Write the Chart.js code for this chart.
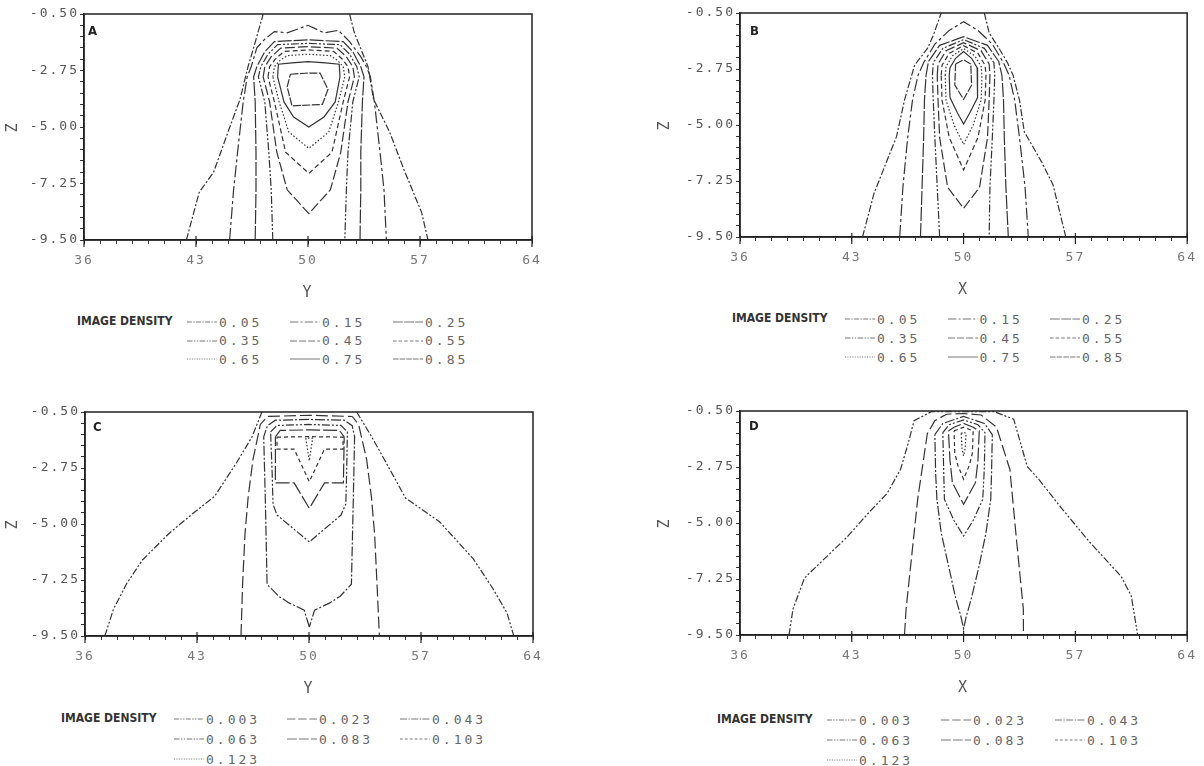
<!DOCTYPE html>
<html>
<head>
<meta charset="utf-8">
<script src="https://cdn.jsdelivr.net/npm/chart.js@4.4.1/dist/chart.umd.min.js"></script>
<style>
  body { margin: 0; background: #fff; width: 1204px; height: 766px; position: relative; overflow: hidden; }
  canvas { position: absolute; }
  .tag { position: absolute; font: bold 13px "DejaVu Sans Condensed", "DejaVu Sans", sans-serif; font-stretch: condensed; color: #222; line-height: 14px; }
  .lgLabel { position: absolute; font: bold 12px "DejaVu Sans Condensed", "DejaVu Sans", sans-serif; font-stretch: condensed; color: #333; line-height: 14px; white-space: nowrap; }
  .lgItem { position: absolute; height: 16px; display: flex; align-items: center; white-space: nowrap; }
  .lgItem span { font: 13px "DejaVu Sans Mono", monospace; letter-spacing: 3px; color: #666; margin-left: 2px; }
</style>
</head>
<body>
<canvas id="cA" width="560" height="310" style="left:0px;top:0px"></canvas>
<canvas id="cB" width="552" height="307" style="left:652px;top:0px"></canvas>
<canvas id="cC" width="560" height="308" style="left:0px;top:398px"></canvas>
<canvas id="cD" width="552" height="307" style="left:652px;top:398px"></canvas>

<script>
// contour levels and axis ticks
const levelsAB = ['0.05', '0.15', '0.25', '0.35', '0.45', '0.55', '0.65', '0.75', '0.85'];
const levelsCD = ['0.003', '0.023', '0.043', '0.063', '0.083', '0.103', '0.123'];
const xTickValues = [36, 43, 50, 57, 64];
const zTickValues = [-0.5, -2.75, -5.0, -7.25, -9.5];

// contour lines, [x, z] points per level (null = line leaves the plot)
const contoursA = [
  [[42.4,-9.5],[43.2,-7.6],[44.1,-6.8],[45.0,-5.2],[45.75,-3.9],[46.25,-2.6],[46.6,-1.85],[47.2,-0.5], null,
   [52.6,-0.5],[52.9,-1.25],[53.75,-2.6],[54.1,-3.9],[55.1,-5.2],[56.0,-6.7],[57.1,-8.4],[57.5,-9.5]],
  [[45.1,-9.5],[45.35,-7.5],[45.6,-6.0],[45.95,-4.0],[46.2,-3.0],[46.45,-2.6],[46.8,-1.85],[47.3,-1.5],[47.9,-1.2],[48.7,-1.25],
   [50.0,-0.95],[51.0,-1.25],[51.9,-1.15],[52.6,-1.6],[53.3,-2.2],[53.65,-2.6],[53.9,-3.0],[54.15,-4.0],[54.5,-6.0],[54.75,-7.5],[54.9,-9.5]],
  [[46.7,-9.5],[46.75,-7.5],[46.75,-6.0],[46.7,-4.0],[46.6,-3.0],[46.8,-2.6],[47.3,-2.0],[47.9,-1.6],[50.0,-1.53],[52.2,-1.6],
   [52.8,-2.0],[53.3,-2.6],[53.5,-3.0],[53.4,-4.0],[53.3,-6.0],[53.3,-7.5],[53.25,-9.5]],
  [[47.8,-9.5],[47.7,-7.5],[47.55,-6.0],[47.3,-4.0],[46.9,-3.0],[47.05,-2.6],[47.5,-2.1],[48.1,-1.72],[50.0,-1.67],[52.0,-1.72],
   [52.6,-2.1],[53.05,-2.6],[53.2,-3.0],[52.8,-4.0],[52.5,-6.0],[52.4,-7.5],[52.3,-9.5]],
  [[47.2,-3.0],[47.3,-2.6],[47.7,-2.2],[48.3,-1.86],[50.0,-1.8],[51.8,-1.86],[52.4,-2.2],[52.8,-2.6],[52.9,-3.0],[52.5,-4.0],
   [52.05,-6.0],[51.4,-7.5],[50.05,-8.45],[48.7,-7.5],[48.05,-6.0],[47.6,-4.0],[47.2,-3.0]],
  [[47.5,-3.0],[47.6,-2.6],[47.95,-2.3],[48.5,-1.99],[50.0,-1.93],[51.6,-1.99],[52.15,-2.3],[52.5,-2.6],[52.6,-3.0],[52.2,-4.0],
   [51.5,-6.0],[50.05,-6.85],[48.6,-6.0],[47.9,-4.0],[47.5,-3.0]],
  [[47.8,-3.0],[47.9,-2.6],[48.25,-2.35],[48.7,-2.16],[50.0,-2.1],[51.4,-2.16],[51.85,-2.35],[52.2,-2.6],[52.3,-3.0],[51.9,-4.0],
   [51.3,-5.2],[50.05,-5.85],[48.8,-5.2],[48.2,-4.0],[47.8,-3.0]],
  [[48.1,-3.0],[48.15,-2.5],[49.0,-2.45],[50.0,-2.4],[51.1,-2.45],[51.95,-2.5],[52.0,-3.0],[51.7,-4.0],[51.0,-4.6],[50.05,-5.0],
   [49.1,-4.6],[48.5,-4.0],[48.1,-3.0]],
  [[48.9,-2.9],[49.8,-2.86],[50.75,-2.85],[51.25,-3.5],[50.9,-4.1],[49.0,-4.16],[48.7,-3.4],[48.9,-2.9]]
];

const contoursB = [
  [[43.67,-9.5],[44.4,-7.73],[45.1,-6.6],[45.8,-5.47],[46.3,-4.0],[46.75,-3.0],[46.94,-2.59],[47.75,-1.91],[48.1,-1.4],[48.6,-0.5], null,
   [51.3,-0.5],[51.6,-1.3],[52.2,-1.9],[52.75,-2.5],[53.1,-3.0],[53.5,-4.0],[53.8,-5.27],[54.9,-6.5],[55.6,-7.4],[56.4,-9.5]],
  [[46.0,-9.5],[46.2,-7.5],[46.5,-5.5],[46.8,-4.0],[47.15,-3.0],[47.5,-2.5],[48.2,-1.75],[49.1,-1.2],[50.0,-0.85],[50.9,-1.2],
   [51.8,-1.75],[52.5,-2.5],[52.85,-3.0],[53.2,-4.0],[53.5,-5.5],[53.85,-7.5],[54.05,-9.5]],
  [[47.3,-9.5],[47.4,-7.5],[47.5,-5.5],[47.55,-4.0],[47.65,-3.0],[47.8,-2.45],[48.5,-1.8],[50.0,-1.45],[51.5,-1.8],[52.2,-2.45],
   [52.4,-3.0],[52.5,-4.0],[52.55,-5.5],[52.65,-7.5],[52.8,-9.5]],
  [[48.5,-9.5],[48.35,-7.5],[48.2,-5.5],[48.1,-4.0],[48.05,-3.0],[48.1,-2.5],[48.7,-1.92],[50.0,-1.57],[51.3,-1.92],[51.9,-2.5],
   [51.95,-3.0],[51.9,-4.0],[51.8,-5.5],[51.65,-7.5],[51.6,-9.5]],
  [[48.35,-3.0],[48.4,-2.55],[48.9,-2.02],[50.0,-1.69],[51.1,-2.02],[51.6,-2.55],[51.65,-3.0],[51.6,-4.0],[51.5,-5.5],[51.0,-7.5],
   [50.0,-8.35],[49.0,-7.5],[48.5,-5.5],[48.4,-4.0],[48.35,-3.0]],
  [[48.6,-3.0],[48.65,-2.6],[49.1,-2.12],[50.0,-1.81],[50.9,-2.12],[51.35,-2.6],[51.4,-3.0],[51.35,-4.0],[50.9,-5.5],[50.0,-6.81],
   [49.1,-5.5],[48.65,-4.0],[48.6,-3.0]],
  [[48.85,-3.0],[48.9,-2.65],[49.3,-2.22],[50.0,-1.93],[50.7,-2.22],[51.1,-2.65],[51.15,-3.0],[51.1,-4.0],[50.6,-5.0],[50.0,-5.78],
   [49.4,-5.0],[48.9,-4.0],[48.85,-3.0]],
  [[49.1,-3.0],[49.15,-2.7],[49.5,-2.32],[50.0,-2.05],[50.5,-2.32],[50.85,-2.7],[50.9,-3.0],[50.85,-3.9],[50.4,-4.5],[50.0,-4.96],
   [49.6,-4.5],[49.15,-3.9],[49.1,-3.0]],
  [[49.5,-2.55],[50.0,-2.38],[50.45,-2.55],[50.5,-3.4],[50.0,-3.97],[49.45,-3.4],[49.5,-2.55]]
];

const contoursC = [
  [[37.24,-9.5],[37.77,-8.44],[38.6,-7.4],[39.56,-6.47],[41.25,-5.38],[42.7,-4.6],[44.1,-3.89],[45.48,-2.53],[46.43,-1.51],[47.06,-0.5], null,
   [52.98,-0.5],[53.93,-1.51],[54.7,-2.4],[56.04,-3.96],[58.16,-4.91],[60.27,-6.4],[61.5,-7.6],[62.38,-8.58],[62.8,-9.5]],
  [[45.75,-9.5],[45.85,-7.4],[46.0,-5.4],[46.2,-3.9],[46.5,-2.4],[46.96,-1.0],[47.4,-0.68],[50.0,-0.63],[52.7,-0.68],[53.1,-1.0],
   [53.6,-2.4],[53.9,-3.9],[54.1,-5.4],[54.25,-7.4],[54.4,-9.5]],
  [[50.02,-9.14],[49.7,-8.46],[48.75,-8.17],[48.1,-7.9],[47.38,-7.42],[47.27,-4.0],[47.17,-1.5],[47.4,-1.05],[47.9,-0.83],[50.0,-0.8],
   [52.2,-0.83],[52.7,-1.05],[52.85,-1.5],[52.77,-4.0],[52.65,-7.42],[51.95,-7.9],[51.3,-8.17],[50.35,-8.46],[50.02,-9.14]],
  [[47.6,-1.3],[48.0,-1.04],[50.0,-1.0],[52.0,-1.04],[52.4,-1.3],[52.35,-3.0],[52.3,-4.2],[52.0,-4.64],[50.02,-5.72],[48.0,-4.64],
   [47.75,-4.2],[47.7,-3.0],[47.6,-1.3]],
  [[47.9,-1.5],[48.2,-1.24],[50.0,-1.22],[51.9,-1.24],[52.2,-1.5],[52.15,-3.35],[50.97,-3.35],[50.02,-4.37],[49.07,-3.35],[47.9,-3.35],[47.9,-1.5]],
  [[48.0,-1.51],[50.0,-1.49],[52.13,-1.51],[52.13,-1.99],[50.97,-1.99],[50.02,-3.3],[49.07,-1.99],[48.0,-1.99],[48.0,-1.51]],
  [[49.8,-1.55],[50.02,-2.46],[50.23,-1.55],[49.8,-1.55]]
];

const contoursD = [
  [[39.07,-9.5],[39.32,-8.45],[40.04,-7.21],[40.76,-6.76],[42.68,-5.58],[44.13,-4.54],[45.2,-3.82],[46.05,-2.85],[46.53,-1.8],[46.9,-0.89],
   [47.97,-0.53],[51.94,-0.53],[53.14,-0.83],[53.98,-2.72],[54.7,-3.24],[56.14,-4.41],[57.83,-5.72],[59.87,-7.15],[60.5,-7.93],[60.9,-9.5]],
  [[46.3,-9.5],[46.4,-8.45],[47.13,-4.02],[47.73,-1.41],[48.2,-0.89],[48.93,-0.63],[50.0,-0.6],[51.1,-0.66],[52.06,-1.15],[52.9,-2.85],
   [53.26,-5.32],[53.74,-8.45],[53.75,-9.5]],
  [[48.2,-1.45],[48.7,-1.0],[50.0,-0.72],[51.3,-1.0],[51.8,-1.45],[51.75,-3.0],[51.7,-4.05],[51.4,-5.4],[50.98,-6.7],[50.5,-8.0],
   [50.15,-8.8],[50.0,-9.25],[49.85,-8.8],[49.5,-8.0],[49.05,-6.7],[48.6,-5.4],[48.33,-4.05],[48.25,-3.0],[48.2,-1.45]],
  [[48.7,-1.37],[49.1,-1.05],[50.0,-0.86],[50.9,-1.05],[51.34,-1.37],[51.3,-2.8],[51.2,-4.05],[50.6,-4.9],[50.0,-5.52],[49.4,-4.9],
   [48.8,-4.05],[48.75,-2.8],[48.7,-1.37]],
  [[49.05,-1.3],[49.4,-1.15],[50.0,-1.0],[50.6,-1.15],[50.98,-1.3],[50.9,-2.5],[50.74,-3.38],[50.0,-4.25],[49.3,-3.38],[49.15,-2.5],[49.05,-1.3]],
  [[49.4,-1.3],[50.0,-1.15],[50.6,-1.3],[50.55,-2.2],[50.35,-2.7],[50.0,-3.24],[49.65,-2.7],[49.45,-2.2],[49.4,-1.3]],
  [[49.85,-1.4],[50.0,-1.35],[50.15,-1.4],[50.1,-2.0],[50.0,-2.3],[49.9,-2.0],[49.85,-1.4]]
];

// line styles per level
const dashAB = [[7,2,2,2], [12,3,3,3], [14,2], [8,2,2,2,2,2], [10,3], [5,3], [1.5,2], [], [8,1.5]];
const dashCD = [[7,2,2,2,2,2], [12,4], [10,2,2,2], [8,2,2,2,2,2], [14,3], [4,3], [1.5,2]];

// minor ticks along the axes
const xMinor = [];
for (let v = 36; v <= 64; v++) xMinor.push(v);
const zMinor = [];
for (let k = 0; k <= 20; k++) zMinor.push(-0.5 - k * 0.45);

const panels = [
  { id: 'cA', tag: 'A', contours: contoursA, levels: levelsAB, dash: dashAB, xTitle: 'Y',
    yw: 84, padTop: 14, padRight: 28,
    tagPos: [88, 24], lg: { labelX: 77, rowY: 322, colX: 187, colW: 103, rowH: 18.5 } },
  { id: 'cB', tag: 'B', contours: contoursB, levels: levelsAB, dash: dashAB, xTitle: 'X',
    yw: 88, padTop: 13, padRight: 16,
    tagPos: [750, 24], lg: { labelX: 732, rowY: 319, colX: 845, colW: 102.5, rowH: 19 } },
  { id: 'cC', tag: 'C', contours: contoursC, levels: levelsCD, dash: dashCD, xTitle: 'Y',
    yw: 85, padTop: 14, padRight: 27,
    tagPos: [93, 420], lg: { labelX: 61, rowY: 719, colX: 174, colW: 113, rowH: 20 } },
  { id: 'cD', tag: 'D', contours: contoursD, levels: levelsCD, dash: dashCD, xTitle: 'X',
    yw: 88, padTop: 13, padRight: 16,
    tagPos: [749, 419], lg: { labelX: 717, rowY: 720, colX: 827, colW: 114, rowH: 20 } }
];

// frame around the plot area, plus letter spacing for the plotter-like labels
const framePlugin = {
  id: 'frame',
  beforeDraw(chart) { chart.ctx.letterSpacing = '2px'; },
  afterDraw(chart) {
    const { left, top, right, bottom } = chart.chartArea;
    const ctx = chart.ctx;
    ctx.save();
    ctx.strokeStyle = '#222';
    ctx.lineWidth = 1.5;
    ctx.strokeRect(left, top, right - left, bottom - top);
    // longer ticks at the labelled x positions
    const xs = chart.scales.x;
    ctx.lineWidth = 1.2;
    ctx.beginPath();
    xTickValues.forEach(v => {
      const px = xs.getPixelForValue(v);
      ctx.moveTo(px, bottom - 4);
      ctx.lineTo(px, bottom + 7);
    });
    ctx.stroke();
    ctx.restore();
  }
};

const tickFont = { family: 'DejaVu Sans Mono', size: 13 };

function isMajor(list, v) {
  return list.some(t => Math.abs(t - v) < 1e-6);
}

panels.forEach(p => {
  const ctx = document.getElementById(p.id).getContext('2d');
  new Chart(ctx, {
    type: 'scatter',
    data: {
      datasets: p.contours.map((pts, i) => ({
        label: p.levels[i],
        data: pts.map(pt => pt ? { x: pt[0], y: pt[1] } : { x: null, y: null }),
        showLine: true,
        spanGaps: false,
        borderColor: '#333',
        borderWidth: 1.2,
        borderDash: p.dash[i],
        pointRadius: 0,
        fill: false,
        tension: 0
      }))
    },
    options: {
      responsive: false,
      animation: false,
      layout: { padding: { top: p.padTop, right: p.padRight, left: 0, bottom: 0 } },
      plugins: { legend: { display: false }, tooltip: { enabled: false } },
      scales: {
        x: {
          type: 'linear', min: 36, max: 64,
          afterBuildTicks: s => { s.ticks = xMinor.map(v => ({ value: v })); },
          afterFit: s => { s.height = 70; },
          ticks: {
            autoSkip: false, maxRotation: 0, padding: 9, color: '#777', font: tickFont,
            callback: v => isMajor(xTickValues, v) ? String(v) : ''
          },
          grid: { drawOnChartArea: false, tickLength: 4, color: '#333' },
          border: { color: '#222', width: 1.5 },
          title: { display: true, text: p.xTitle, color: '#555', font: { family: 'DejaVu Sans Mono', size: 15 }, padding: { top: 0, bottom: 8 } }
        },
        y: {
          type: 'linear', min: -9.5, max: -0.5,
          afterBuildTicks: s => { s.ticks = zMinor.map(v => ({ value: v })); },
          afterFit: s => { s.width = p.yw; },
          ticks: {
            autoSkip: false, padding: 1, color: '#555', font: tickFont,
            callback: v => isMajor(zTickValues, v) ? v.toFixed(2) : ''
          },
          grid: { drawOnChartArea: false, tickLength: 4, color: '#333' },
          border: { color: '#222', width: 1.5 },
          title: { display: true, text: 'Z', color: '#555', font: { family: 'DejaVu Sans Mono', size: 15 }, padding: { top: 4, bottom: 0 } }
        }
      }
    },
    plugins: [framePlugin]
  });

  // panel letter
  const tag = document.createElement('div');
  tag.className = 'tag';
  tag.style.left = p.tagPos[0] + 'px';
  tag.style.top = p.tagPos[1] + 'px';
  tag.textContent = p.tag;
  document.body.appendChild(tag);

  // legend: "IMAGE DENSITY" + 3 columns of line samples
  const lab = document.createElement('div');
  lab.className = 'lgLabel';
  lab.style.left = p.lg.labelX + 'px';
  lab.style.top = (p.lg.rowY - 8) + 'px';
  lab.textContent = 'IMAGE DENSITY';
  document.body.appendChild(lab);

  p.levels.forEach((lv, i) => {
    const col = i % 3, row = Math.floor(i / 3);
    const item = document.createElement('div');
    item.className = 'lgItem';
    item.style.left = (p.lg.colX + col * p.lg.colW) + 'px';
    item.style.top = (p.lg.rowY + row * p.lg.rowH - 8) + 'px';
    const dash = p.dash[i].length ? p.dash[i].map(d => d * 0.7).join(',') : 'none';
    item.innerHTML = '<svg width="30" height="6"><line x1="0" y1="3" x2="30" y2="3" stroke="#777" stroke-width="1" stroke-dasharray="' + dash + '"/></svg><span>' + lv + '</span>';
    document.body.appendChild(item);
  });
});
</script>
</body>
</html>
